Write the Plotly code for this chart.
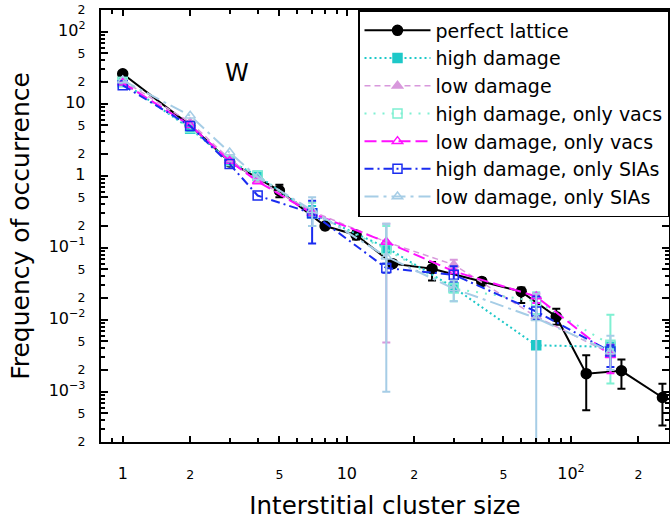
import numpy as np
import plotly.graph_objects as go

# ---------------- data ----------------
sizes_pl = [1, 2, 3, 5, 8, 11, 16, 24, 40, 60, 86, 117, 168, 256]
freq_pl = [26, 5.0, 1.55, 0.62, 0.20, 0.15, 0.060, 0.051, 0.034, 0.0245, 0.011, 0.00178, 0.00195, 0.00083]
up_pl = [None, None, None, 0.75, 0.22, 0.17, 0.066, 0.063, 0.038, 0.028, 0.0142, 0.0032, 0.0028, 0.00129]
lo_pl = [None, None, None, 0.50, 0.18, 0.13, 0.055, 0.035, 0.030, 0.017, 0.0085, 0.00055, 0.0011, 0.00034]

sizes = [1, 2, 3, 4, 7, 15, 30, 70, 150]
freq_hd = [20, 4.5, 1.6, 1.0, 0.30, 0.10, 0.028, 0.0044, 0.0042]
up_hd = [None, None, None, None, 0.38, None, None, None, None]
lo_hd = [None, None, None, None, 0.20, None, None, None, None]

freq_ld = [21, 5.5, 1.7, 0.85, 0.32, 0.12, 0.058, 0.011, 0.0034]
up_ld = [None, None, None, None, None, 0.215, 0.068, None, None]
lo_ld = [None, None, None, None, None, 0.0048, 0.050, None, None]

freq_hv = [20, 4.6, 1.6, 1.0, 0.30, 0.095, 0.027, 0.018, 0.0045]
up_hv = [None, None, None, None, 0.42, 0.20, 0.032, 0.024, 0.0117]
lo_hv = [None, None, None, None, 0.20, 0.06, 0.018, 0.012, 0.0013]

freq_lv = [19.5, 5.0, 1.6, 0.83, 0.30, 0.12, 0.047, 0.021, 0.0032]
up_lv = [None, None, None, None, None, None, None, 0.023, 0.0045]
lo_lv = [None, None, None, None, None, None, None, 0.017, 0.0018]

freq_hs = [18, 4.9, 1.45, 0.53, 0.30, 0.052, 0.042, 0.013, 0.0036]
up_hs = [None, None, None, None, 0.45, 0.060, 0.055, 0.021, 0.0044]
lo_hs = [None, None, None, None, 0.114, 0.045, 0.034, 0.010, 0.0022]

freq_ls = [21, 6.8, 2.1, 0.95, 0.33, 0.075, 0.027, 0.0105, 0.0036]
up_ls = [None, None, None, None, 0.50, 0.215, 0.035, 0.023, 0.006]
lo_ls = [None, None, None, None, 0.20, 0.001, 0.018, 1e-6, 0.002]

x_tickvals = [1, 2, 5, 10, 20, 50, 100, 200]
x_ticktext = ["1", "2", "5", "10", "2", "5", "10<sup>2</sup>", "2"]
y_tickvals = [2e-4, 5e-4, 1e-3, 2e-3, 5e-3, 1e-2, 2e-2, 5e-2, 1e-1,
              2e-1, 5e-1, 1, 2, 5, 10, 20, 50, 100, 200]
y_ticktext = ["2", "5", "10<sup>\u22123</sup>", "2", "5", "10<sup>\u22122</sup>", "2", "5",
              "10<sup>\u22121</sup>", "2", "5", "1", "2", "5", "10", "2", "5", "10<sup>2</sup>", "2"]

series = [
    ("perfect lattice", sizes_pl, freq_pl, up_pl, lo_pl),
    ("high damage", sizes, freq_hd, up_hd, lo_hd),
    ("low damage", sizes, freq_ld, up_ld, lo_ld),
    ("high damage, only vacs", sizes, freq_hv, up_hv, lo_hv),
    ("low damage, only vacs", sizes, freq_lv, up_lv, lo_lv),
    ("high damage, only SIAs", sizes, freq_hs, up_hs, lo_hs),
    ("low damage, only SIAs", sizes, freq_ls, up_ls, lo_ls),
]

styles = {
    "perfect lattice": dict(color="#000000", symbol="circle", dash="solid", width=2, size=10),
    "high damage": dict(color="#1ec8c8", symbol="square", dash="2px,3px", width=2, size=9),
    "low damage": dict(color="#d898dc", symbol="triangle-up", dash="6px,4px", width=1.5, size=9),
    "high damage, only vacs": dict(color="#7ff0d2", symbol="square-open", dash="2px,7px", width=2, size=9),
    "low damage, only vacs": dict(color="#ff10ff", symbol="triangle-up-open", dash="12px,5px", width=2, size=9),
    "high damage, only SIAs": dict(color="#1a2cf0", symbol="square-open", dash="9px,4px,2px,4px", width=2, size=9),
    "low damage, only SIAs": dict(color="#a6cde6", symbol="triangle-up-open", dash="14px,5px,3px,5px", width=2, size=9),
}


def err_arrays(y, up, lo):
    plus = np.array([np.nan if u is None else u - v for u, v in zip(up, y)], dtype=float)
    minus = np.array([np.nan if l is None else v - l for l, v in zip(lo, y)], dtype=float)
    return plus, minus


fig = go.Figure()
for name, xs, ys, up, lo in series:
    st = styles[name]
    plus, minus = err_arrays(ys, up, lo)
    fig.add_trace(go.Scatter(
        x=xs, y=ys, name=name, mode="lines+markers",
        line=dict(color=st["color"], dash=st["dash"], width=st["width"]),
        marker=dict(symbol=st["symbol"], size=st["size"], color=st["color"],
                    line=dict(color=st["color"], width=1.5)),
        error_y=dict(type="data", symmetric=False, array=plus, arrayminus=minus,
                     color=st["color"], thickness=2, width=4),
    ))


# decade labels drawn larger than the 2 / 5 labels
def styled(labels):
    out = []
    for t in labels:
        if t.startswith("10") or t == "1":
            out.append('<span style="font-size:16px">' + t + "</span>")
        else:
            out.append(t)
    return out


xr = [np.log10(0.8), 2.4375]
yr = [np.log10(2e-4) - 1e-6, np.log10(2e2) + 1e-6]
font_family = "DejaVu Sans, Liberation Sans, Arial, sans-serif"

fig.update_layout(
    width=670, height=523,
    margin=dict(l=101, r=1, t=10, b=81, autoexpand=False),
    paper_bgcolor="white", plot_bgcolor="white",
    font=dict(family=font_family, color="black"),
    showlegend=True,
    legend=dict(x=1, y=1, xanchor="right", yanchor="top",
                bgcolor="white", bordercolor="black", borderwidth=1.5,
                font=dict(size=19, family=font_family), itemwidth=66,
                tracegroupgap=0),
    xaxis=dict(type="log", range=xr, showgrid=False, zeroline=False, automargin=False,
               showline=True, linecolor="black", linewidth=2, mirror="ticks",
               ticks="inside", ticklen=6, tickwidth=1.5, tickcolor="black",
               tickmode="array", tickvals=x_tickvals, ticktext=styled(x_ticktext),
               tickfont=dict(size=12.5), ticklabelstandoff=20,
               minor=dict(dtick="D1", ticks="inside", ticklen=4, tickwidth=1.5, tickcolor="black"),
               title=dict(text="Interstitial cluster size", font=dict(size=24.5), standoff=15)),
    yaxis=dict(type="log", range=yr, showgrid=False, zeroline=False, automargin=False,
               showline=True, linecolor="black", linewidth=2, mirror="ticks",
               ticks="inside", ticklen=7, tickwidth=1.5, tickcolor="black",
               tickmode="array", tickvals=y_tickvals, ticktext=styled(y_ticktext),
               tickfont=dict(size=12.5), ticklabelstandoff=11, ticklabeloverflow="allow",
               minor=dict(dtick="D1", ticks="inside", ticklen=4, tickwidth=1.5, tickcolor="black"),
               title=dict(text="Frequency of occurrence", font=dict(size=25), standoff=12)),
    xaxis3=dict(type="log", range=xr, overlaying="x", anchor="y", showgrid=False, automargin=False,
                zeroline=False, showline=False, ticks="inside", ticklen=12, tickwidth=1.5,
                tickcolor="black", dtick=1, showticklabels=False, mirror="ticks"),
    yaxis3=dict(type="log", range=yr, overlaying="y", anchor="x", showgrid=False, automargin=False,
                zeroline=False, showline=False, ticks="inside", ticklen=12, tickwidth=1.5,
                tickcolor="black", dtick=1, showticklabels=False, mirror="ticks"),
    annotations=[dict(text="W", x=0.2394, y=0.854, xref="paper", yref="paper",
                      xanchor="center", yanchor="middle",
                      showarrow=False, font=dict(size=24, family=font_family))],
)

# remove the default page margin so the 670x523 figure fills the window exactly
fig.write_html("out.html", config={"displayModeBar": False},
               post_script="document.body.style.margin='0px';")
